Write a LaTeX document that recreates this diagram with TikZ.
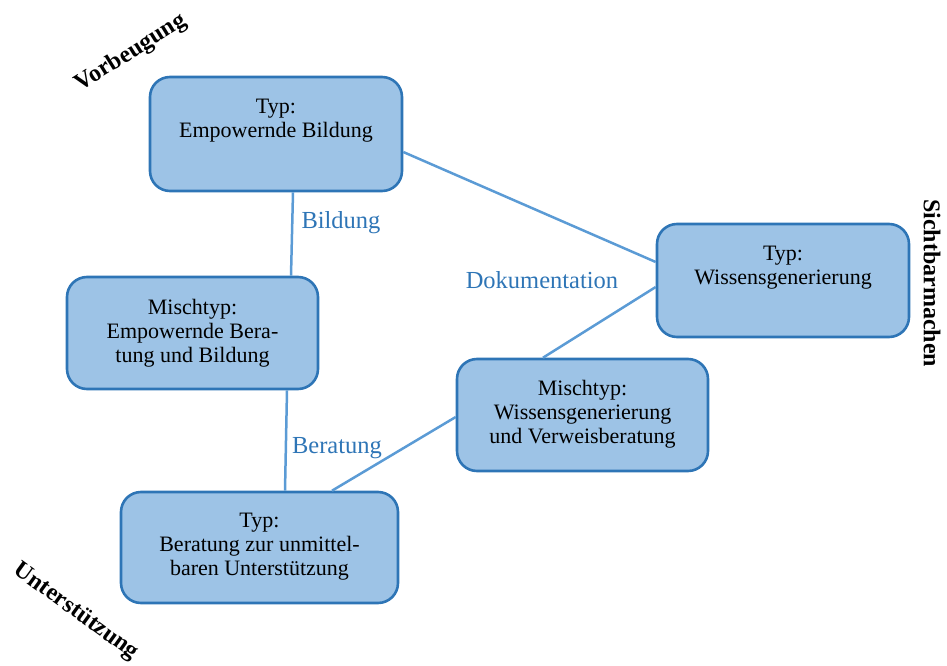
\documentclass[tikz,border=0pt]{standalone}
\usepackage{fontspec}
\setmainfont{Liberation Serif}
\definecolor{boxfill}{HTML}{9DC3E6}
\definecolor{boxdraw}{HTML}{2E75B6}
\definecolor{linecol}{HTML}{5B9BD5}
\definecolor{labcol}{HTML}{2E75B6}
\tikzset{
  box/.style={draw=boxdraw, fill=boxfill, line width=2.6pt, rounded corners=20pt, inner sep=0pt},
  boxtext/.style={align=center, inner sep=0pt, font=\fontsize{22}{24}\selectfont, anchor=north},
  conn/.style={draw=linecol, line width=2.5pt},
  edgelab/.style={text=labcol, inner sep=0pt, font=\fontsize{24.5}{28}\selectfont, anchor=base},
  dimlab/.style={inner sep=0pt, font=\fontsize{24}{28}\selectfont\bfseries},
}
\begin{document}
\begin{tikzpicture}[x=1pt,y=-1pt]
\useasboundingbox (0,0) rectangle (947,666);
% boxes
\node[box, minimum width=252pt, minimum height=114pt] (b1) at (276,134) {};
\node[box, minimum width=252pt, minimum height=113pt] (b2) at (783,280.5) {};
\node[box, minimum width=251pt, minimum height=112pt] (b3) at (192.5,333) {};
\node[box, minimum width=251pt, minimum height=112pt] (b4) at (582.5,415) {};
\node[box, minimum width=277pt, minimum height=111pt] (b5) at (259.5,547.5) {};
% connectors
\draw[conn] ([yshift=-18pt]b1.east) -- ([yshift=18.5pt]b2.west);
\draw[conn] ([xshift=17pt]b1.south) -- ([xshift=98.5pt]b3.north);
\draw[conn] ([xshift=94.5pt]b3.south) -- ([xshift=25.5pt]b5.north);
\draw[conn] ([xshift=-39.5pt]b4.north) -- ([yshift=-6.5pt]b2.west);
\draw[conn] ([yshift=-2pt]b4.west) -- ([xshift=72.5pt]b5.north);
% box texts
\node[boxtext] (t1) at ([yshift=-23pt]b1.north) {Typ:\\Empowernde Bildung};
\node[boxtext] (t2) at ([yshift=-23pt]b2.north) {Typ:\\Wissensgenerierung};
\node[boxtext] (t3) at ([yshift=-23pt]b3.north) {Mischtyp:\\Empowernde Bera-\\tung und Bildung};
\node[boxtext] (t4) at ([yshift=-22pt]b4.north) {Mischtyp:\\Wissensgenerierung\\und Verweisberatung};
\node[boxtext] (t5) at ([yshift=-22pt]b5.north) {Typ:\\Beratung zur unmittel-\\baren Unterstützung};
% edge labels
\node[edgelab] (l1) at (341,228) {Bildung};
\node[edgelab] (l2) at (542,288) {Dokumentation};
\node[edgelab] (l3) at (337,453) {Beratung};
% dimension labels
\node[dimlab, rotate=32] (d1) at (131,53) {Vorbeugung};
\node[dimlab, rotate=-90] (d2) at (932,283) {Sichtbarmachen};
\node[dimlab, rotate=-36] (d3) at (76,612) {Unterstützung};
\end{tikzpicture}
\end{document}
